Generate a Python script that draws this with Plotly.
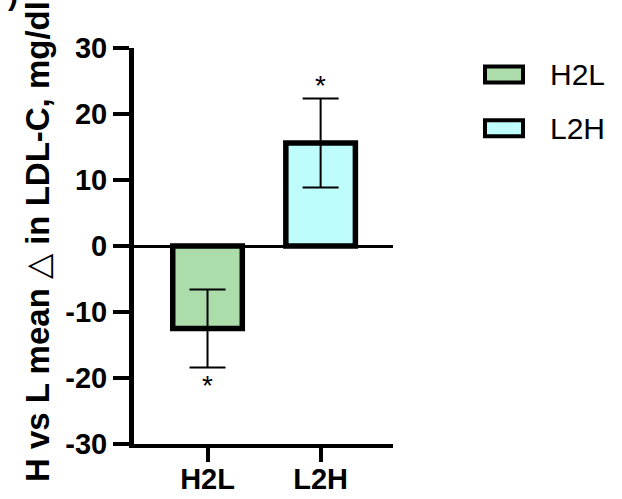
import plotly.graph_objects as go

# ---- data ----
categories = ["H2L", "L2H"]
means = [-12.5, 15.6]
errors = [5.9, 6.75]
bar_colors = ["#addcab", "#bffcfc"]
y_ticks = [-30, -20, -10, 0, 10, 20, 30]
y_tick_labels = ["-30", "-20", "-10", "0", "10", "20", "30"]
significance = ["*", "*"]

# ---- layout geometry (px) ----
W, H = 622, 499
L, R, T, B = 134, 229, 47.5, 54.5
pw = W - L - R
ph = H - T - B

def px2paper_x(px):
    return (px - L) / pw

def px2paper_y(py):
    return (H - B - py) / ph

fig = go.Figure()
for i, cat in enumerate(categories):
    fig.add_trace(go.Bar(
        x=[i], y=[means[i]], name=cat, width=0.615,
        marker=dict(color=bar_colors[i], line=dict(color="black", width=5.5)),
        error_y=dict(type="data", array=[errors[i]], visible=True,
                     color="black", thickness=2, width=18),
        showlegend=False,
    ))

# significance asterisks from data positions
for i, cat in enumerate(categories):
    up = means[i] >= 0
    yv = means[i] + errors[i] if up else means[i] - errors[i]
    fig.add_annotation(x=i, y=yv, xref="x", yref="y", text=significance[i],
                       showarrow=False, font=dict(family="Liberation Sans", size=28, color="black"),
                       yanchor="bottom" if up else "top",
                       yshift=-5 if up else -1)

# legend (manual, wide swatches)
leg_rows = [74, 128]
for i, cat in enumerate(categories):
    cy = leg_rows[i]
    fig.add_shape(type="rect", xref="paper", yref="paper",
                  x0=px2paper_x(485), x1=px2paper_x(523),
                  y0=px2paper_y(cy - 8), y1=px2paper_y(cy + 8),
                  fillcolor=bar_colors[i], line=dict(color="black", width=4))
    fig.add_annotation(xref="paper", yref="paper", x=px2paper_x(548), y=px2paper_y(cy),
                       text=cat, showarrow=False, xanchor="left", yanchor="middle",
                       font=dict(family="Liberation Sans", size=30, color="black"))

# y-axis title
fig.add_annotation(xref="paper", yref="paper", x=px2paper_x(37), y=px2paper_y(242),
                   text="<b>H vs L mean </b>\u25B3<b> in LDL-C, mg/dl</b>",
                   textangle=-90, showarrow=False, xanchor="center", yanchor="middle",
                   font=dict(family="Liberation Sans", size=33, color="black"))

# cut-off panel label fragment
fig.add_annotation(xref="paper", yref="paper", x=px2paper_x(6), y=px2paper_y(12),
                   text="<b>)</b>", showarrow=False, xanchor="left", yanchor="bottom",
                   font=dict(family="Liberation Sans", size=30, color="black"))

fig.update_layout(
    width=W, height=H,
    margin=dict(l=L, r=R, t=T, b=B, pad=0, autoexpand=False),
    paper_bgcolor="white", plot_bgcolor="white",
    barmode="overlay",
    xaxis=dict(range=[-0.65, 1.64], tickmode="array", tickvals=[0, 1], ticktext=["<b>%s</b>" % c for c in categories],
               showline=True, linecolor="black", linewidth=4, automargin=False,
               ticks="outside", ticklen=14, tickwidth=4, tickcolor="black",
               ticklabelstandoff=-8,
               showgrid=False, zeroline=False,
               tickfont=dict(family="Liberation Sans", size=29, color="black")),
    yaxis=dict(range=[-30, 30], tickmode="array", tickvals=y_ticks, ticktext=["<b>%s</b>" % t for t in y_tick_labels],
               showline=True, linecolor="black", linewidth=5, automargin=False,
               ticks="outside", ticklen=16, tickwidth=4, tickcolor="black",
               showgrid=False, zeroline=True, zerolinecolor="black", zerolinewidth=3,
               tickfont=dict(family="Liberation Sans", size=29, color="black")),
)

fig.write_html("out.html", config={"displayModeBar": False},
               post_script="document.body.style.margin='0';document.body.style.overflow='hidden';")
